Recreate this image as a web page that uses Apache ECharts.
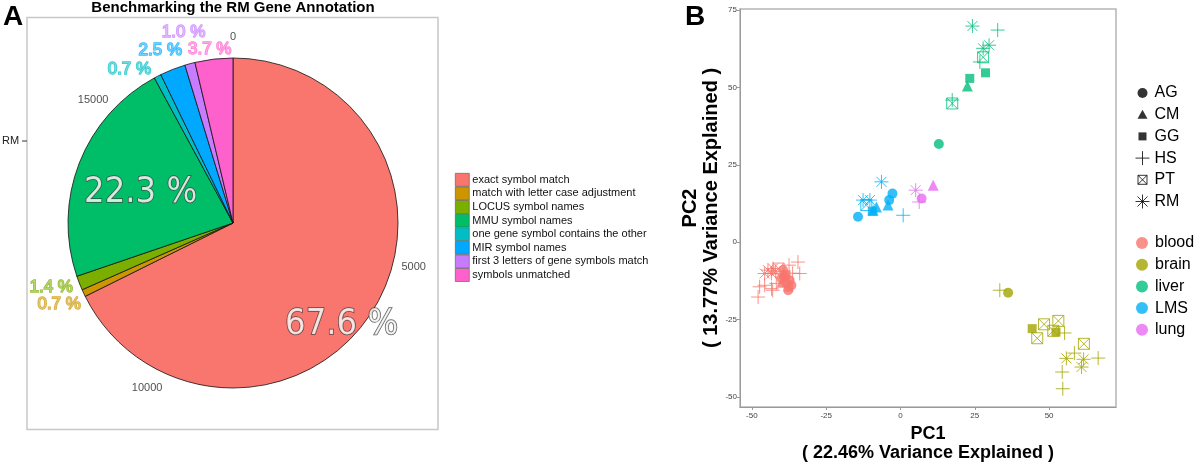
<!DOCTYPE html>
<html><head><meta charset="utf-8">
<script src="https://cdn.jsdelivr.net/npm/echarts@6/dist/echarts.min.js"></script>
<style>html,body{margin:0;padding:0;background:#fff}#c{width:1200px;height:465px}</style>
</head><body><div id="c"></div>
<script>
// ===================== DATA =====================
// Panel A: pie of RM gene annotation categories
const pieCategories = ['exact symbol match','match with letter case adjustment','LOCUS symbol names','MMU symbol names','one gene symbol contains the other','MIR symbol names','first 3 letters of gene symbols match','symbols unmatched'];
const piePercent = [67.6, 0.7, 1.4, 22.3, 0.7, 2.5, 1.0, 3.7];
const pieTotalGenes = 17350;               // estimated from the angular tick positions
const pieTicks = [0, 5000, 10000, 15000];
const pieAxisCategory = 'RM';
const pieTitle = 'Benchmarking the RM Gene Annotation';

// Panel B: PCA scatter, points as [PC1, PC2, species]
const species = ['AG','CM','GG','HS','PT','RM'];
const tissues = ['blood','brain','liver','LMS','lung'];
const bloodPoints = [
  [-39.5,-9.0,'AG'],[-38.9,-11.2,'AG'],[-38.4,-13.3,'AG'],[-37.3,-12.3,'AG'],[-37.8,-15.5,'AG'],[-40.1,-11.7,'AG'],[-36.7,-13.9,'AG'],
  [-39.3,-10.0,'CM'],[-40.0,-12.9,'CM'],
  [-37.6,-14.5,'GG'],[-38.5,-10.5,'GG'],
  [-44.6,-9.0,'RM'],[-42.9,-8.5,'RM'],[-45.7,-10.1,'RM'],[-43.4,-10.1,'RM'],[-42.0,-9.4,'RM'],
  [-47.4,-14.4,'HS'],[-45.7,-13.9,'HS'],[-41.8,-13.3,'HS'],[-43.0,-15.5,'HS'],[-37.5,-7.4,'HS'],[-34.5,-6.4,'HS'],[-33.9,-10.1,'HS'],[-36.3,-10.0,'HS'],[-47.9,-17.7,'HS'],[-43.4,-15.0,'HS'],
  [-41.0,-8.5,'PT']
];
const brainPoints = [
  [36.2,-16.3,'AG'],
  [33.4,-15.5,'HS'],
  [44.3,-27.9,'GG'],[52.3,-29.0,'GG'],
  [48.3,-26.5,'PT'],[46.0,-31.0,'PT'],[53.1,-25.4,'PT'],[51.4,-28.6,'PT'],[61.7,-32.8,'PT'],
  [55.2,-29.3,'HS'],[58.5,-35.8,'HS'],[66.5,-37.4,'HS'],[54.4,-41.9,'HS'],[54.6,-47.3,'HS'],
  [55.8,-37.5,'RM'],[61.6,-37.8,'RM'],[60.9,-40.3,'RM']
];
const liverPoints = [
  [12.9,31.7,'AG'],
  [17.4,44.8,'PT'],[17.4,45.9,'HS'],
  [22.5,50.4,'CM'],
  [23.3,52.9,'GG'],[28.6,54.7,'GG'],
  [27.8,59.7,'PT'],[26.7,58.2,'HS'],
  [27.8,62.6,'RM'],[29.8,63.6,'RM'],[24.2,69.8,'RM'],
  [32.7,68.5,'HS']
];
const lmsPoints = [
  [-14.3,8.2,'AG'],[-3.8,13.6,'AG'],[-2.7,15.7,'AG'],
  [-9.2,10.3,'CM'],[-8.1,11.4,'CM'],[-4.2,12.0,'CM'],
  [-9.5,10.0,'GG'],
  [-6.4,19.5,'RM'],[-12.6,13.6,'RM'],[-10.3,13.6,'RM'],
  [-11.5,12.0,'PT'],
  [0.9,8.7,'HS']
];
const lungPoints = [
  [5.1,16.8,'RM'],[7.1,14.1,'AG'],[6.3,13.0,'HS'],[11.0,18.4,'CM']
];
const xTicks = [-50,-25,0,25,50];
const yTicks = [-50,-25,0,25,50,75];
const xAxisName = 'PC1\n( 22.46% Variance Explained )';
const yAxisName = 'PC2\n( 13.77% Variance Explained )';

// ===================== STYLE =====================
const FONT = '"Liberation Sans", Arial, Helvetica, sans-serif';
const NARROW = '"Liberation Sans Narrow", "DejaVu Sans Condensed", "Liberation Sans", sans-serif';
const pieColors = ['#F8766D','#CD9600','#7CAE00','#00BE67','#00BFC4','#00A9FF','#C77CFF','#FF61CC'];
const tissueColors = {blood:'#F8766D', brain:'#A3A500', liver:'#00BF7D', LMS:'#00B0F6', lung:'#E76BF3'};
const pieCenter = [233, 223];
const pieRadius = 165;
const labelRadius = [149, 192, 193, 97, 185, 188, 197, 175];
const labelNudge = [[-18,23],[0,0],[-2,-6],[-2,5],[-19,11],[-4,2],[2,-1],[-3,0]];
const labelBig = [true,false,false,true,false,false,false,false];
const tickLabelRadius = 186;

const speciesStyle = {
  AG: {symbol:'circle', size:10, stroke:false, legend:'path://M0 0M14 14M2 7A5 5 0 1 1 12 7A5 5 0 1 1 2 7Z'},
  CM: {symbol:'triangle', size:11, stroke:false, legend:'path://M0 0M14 14M7 2L12 11H2Z'},
  GG: {symbol:'rect', size:9, stroke:false, legend:'path://M0 0M14 14M3 3H11V11H3Z'},
  HS: {symbol:'path://M7 0V14M0 7H14', size:14, stroke:true, legend:'path://M7 0V14M0 7H14'},
  PT: {symbol:'path://M0 0H10V10H0ZM0 0L10 10M10 0L0 10', size:11, stroke:true, legend:'path://M0 0M14 14M2.5 2.5H11.5V11.5H2.5ZM2.5 2.5L11.5 11.5M11.5 2.5L2.5 11.5'},
  RM: {symbol:'path://M7 0V14M0 7H14M2 2L12 12M12 2L2 12', size:14, stroke:true, legend:'path://M7 0V14M0 7H14M2 2L12 12M12 2L2 12'}
};

function lighten(hex, t) {
  const n = parseInt(hex.slice(1), 16);
  const r = (n >> 16) & 255, g = (n >> 8) & 255, b = n & 255;
  const m = v => Math.round(v + (255 - v) * t);
  return 'rgb(' + m(r) + ',' + m(g) + ',' + m(b) + ')';
}

// ===================== BUILD =====================
const chart = echarts.init(document.getElementById('c'), null, {renderer: 'canvas'});
const pieSum = piePercent.reduce((a, b) => a + b, 0);
let cum = 0;
const pctLabelData = piePercent.map((v, i) => {
  const mid = cum + v / 2; cum += v;
  const big = labelBig[i];
  return {
    value: [labelRadius[i], mid],
    label: big ? {
      show: true, position: 'inside', offset: labelNudge[i],
      formatter: v.toFixed(1) + ' %', fontFamily: NARROW, fontSize: 36,
      color: '#ffffff', textBorderColor: '#3a3a3a', textBorderWidth: 1.5
    } : {
      show: true, position: 'inside', offset: labelNudge[i],
      formatter: v.toFixed(1) + ' %', fontFamily: FONT, fontSize: 17,
      color: lighten(pieColors[i], 0.5), textBorderColor: pieColors[i], textBorderWidth: 1.4
    }
  };
});

const series = [];
series.push({
  type: 'pie', name: 'annotation', center: pieCenter, radius: [0, pieRadius],
  startAngle: 90, clockwise: true, avoidLabelOverlap: false, silent: true,
  label: {show: false}, labelLine: {show: false},
  itemStyle: {borderColor: '#111', borderWidth: 0.8},
  data: pieCategories.map((n, i) => ({name: n, value: piePercent[i], itemStyle: {color: pieColors[i]}})),
  z: 2
});
series.push({
  type: 'scatter', name: 'pctLabels', coordinateSystem: 'polar', polarIndex: 0,
  symbolSize: 1, itemStyle: {color: 'rgba(0,0,0,0)'}, clip: false, silent: true,
  data: pctLabelData, z: 5
});
series.push({
  type: 'scatter', name: 'pieTickLabels', coordinateSystem: 'polar', polarIndex: 1,
  symbolSize: 1, itemStyle: {color: 'rgba(0,0,0,0)'}, clip: false, silent: true,
  label: {show: true, position: 'inside', formatter: p => String(p.value[1]), fontFamily: FONT, fontSize: 11, color: '#222'},
  data: pieTicks.map(v => [tickLabelRadius, v]), z: 5
});

const tissuePoints = {blood: bloodPoints, brain: brainPoints, liver: liverPoints, LMS: lmsPoints, lung: lungPoints};
tissues.forEach(t => {
  species.forEach(sp => {
    const pts = tissuePoints[t].filter(p => p[2] === sp).map(p => [p[0], p[1]]);
    if (!pts.length) return;
    const st = speciesStyle[sp];
    const c = tissueColors[t];
    series.push({
      type: 'scatter', name: t + ' ' + sp, xAxisIndex: 0, yAxisIndex: 0, data: pts,
      symbol: st.symbol, symbolSize: st.size, symbolKeepAspect: true, silent: true,
      itemStyle: st.stroke ? {color: 'rgba(0,0,0,0)', borderColor: c, borderWidth: 1} : {color: c, borderWidth: 0},
      emphasis: {disabled: true}, z: 3
    });
  });
});
// legend-only series
species.forEach(sp => {
  const st = speciesStyle[sp];
  series.push({
    type: 'scatter', name: sp, xAxisIndex: 0, yAxisIndex: 0, data: [],
    symbol: st.legend, symbolKeepAspect: true,
    itemStyle: st.stroke ? {color: 'rgba(0,0,0,0)', borderColor: '#000', borderWidth: 1} : {color: '#000', borderWidth: 0}
  });
});
tissues.forEach(t => {
  series.push({
    type: 'scatter', name: t, xAxisIndex: 0, yAxisIndex: 0, data: [],
    symbol: 'circle', itemStyle: {color: tissueColors[t], borderWidth: 0}
  });
});

const axisGray = '#9a9a9a';
const option = {
  animation: false,
  backgroundColor: '#ffffff',
  textStyle: {fontFamily: FONT},
  polar: [
    {center: pieCenter, radius: 220},
    {center: pieCenter, radius: 220}
  ],
  radiusAxis: [
    {polarIndex: 0, type: 'value', min: 0, max: 220, show: false},
    {polarIndex: 1, type: 'value', min: 0, max: 220, show: false}
  ],
  angleAxis: [
    {polarIndex: 0, type: 'value', min: 0, max: pieSum, startAngle: 90, clockwise: true, show: false},
    {polarIndex: 1, type: 'value', min: 0, max: pieTotalGenes, startAngle: 90, clockwise: true, show: false}
  ],
  grid: [{left: 740, top: 9, width: 376, height: 398, show: true, borderColor: '#b5b5b5', borderWidth: 1.5, containLabel: false, outerBoundsMode: 'none'}],
  xAxis: [{
    type: 'value', gridIndex: 0, min: -54, max: 72.5,
    axisLine: {show: true, onZero: false, lineStyle: {color: axisGray, width: 1}},
    axisTick: {show: true, length: 3, customValues: xTicks, lineStyle: {color: axisGray}},
    axisLabel: {customValues: xTicks, fontSize: 8, color: '#444', margin: 5, fontFamily: FONT},
    splitLine: {show: false},
    name: xAxisName, nameLocation: 'middle', nameGap: 16,
    nameTextStyle: {fontSize: 18, fontWeight: 'bold', color: '#000', lineHeight: 19, fontFamily: FONT}
  }],
  yAxis: [{
    type: 'value', gridIndex: 0, min: -53.2, max: 75.3,
    axisLine: {show: true, onZero: false, lineStyle: {color: axisGray, width: 1}},
    axisTick: {show: true, length: 3, customValues: yTicks, lineStyle: {color: axisGray}},
    axisLabel: {customValues: yTicks, fontSize: 8, color: '#444', margin: 3, fontFamily: FONT},
    splitLine: {show: false},
    name: yAxisName, nameLocation: 'middle', nameGap: 13, nameRotate: 90,
    nameTextStyle: {fontSize: 20, fontWeight: 'bold', color: '#000', lineHeight: 21, fontFamily: FONT}
  }],
  legend: [
    {
      data: pieCategories, orient: 'vertical', left: 455, top: 173, padding: 0,
      itemWidth: 14, itemHeight: 13, itemGap: 0, icon: 'rect', selectedMode: false,
      itemStyle: {borderWidth: 0.6, borderColor: '#555'},
      textStyle: {fontSize: 11, lineHeight: 13, color: '#111', fontFamily: FONT, padding: [0,0,0,-2]}
    },
    {
      data: species, orient: 'vertical', left: 1135, top: 84, padding: 0,
      itemWidth: 14, itemHeight: 14, itemGap: 3.7, selectedMode: false,
      itemStyle: {borderWidth: 1},
      textStyle: {fontSize: 16, lineHeight: 18, color: '#000', fontFamily: FONT}
    },
    {
      data: tissues, orient: 'vertical', left: 1136, top: 234, padding: 0,
      itemWidth: 12, itemHeight: 12, itemGap: 3.7, selectedMode: false,
      itemStyle: {borderWidth: 0},
      textStyle: {fontSize: 16, lineHeight: 18, color: '#000', fontFamily: FONT, padding: [0,0,0,2]}
    }
  ],
  graphic: [
    {type: 'rect', shape: {x: 27, y: 17.5, width: 411, height: 412}, style: {fill: 'none', stroke: '#c8c8c8', lineWidth: 1.5}, silent: true, z: 0},
    {type: 'text', x: 3, y: 17, style: {text: 'A', fill: '#000', font: 'bold 28px ' + FONT, verticalAlign: 'middle'}, silent: true},
    {type: 'text', x: 685, y: 17.5, style: {text: 'B', fill: '#000', font: 'bold 28px ' + FONT, verticalAlign: 'middle'}, silent: true},
    {type: 'text', x: 233, y: 7.5, style: {text: pieTitle, font: 'bold 15px ' + FONT, fill: '#000', align: 'center', verticalAlign: 'middle'}, silent: true},
    {type: 'text', x: 2, y: 141, style: {text: pieAxisCategory, font: '11px ' + FONT, fill: '#222', verticalAlign: 'middle'}, silent: true},
    {type: 'line', shape: {x1: 22, y1: 141, x2: 27, y2: 141}, style: {stroke: '#333', lineWidth: 1}, silent: true}
  ],
  series: series
};
chart.setOption(option);
</script>
</body></html>
